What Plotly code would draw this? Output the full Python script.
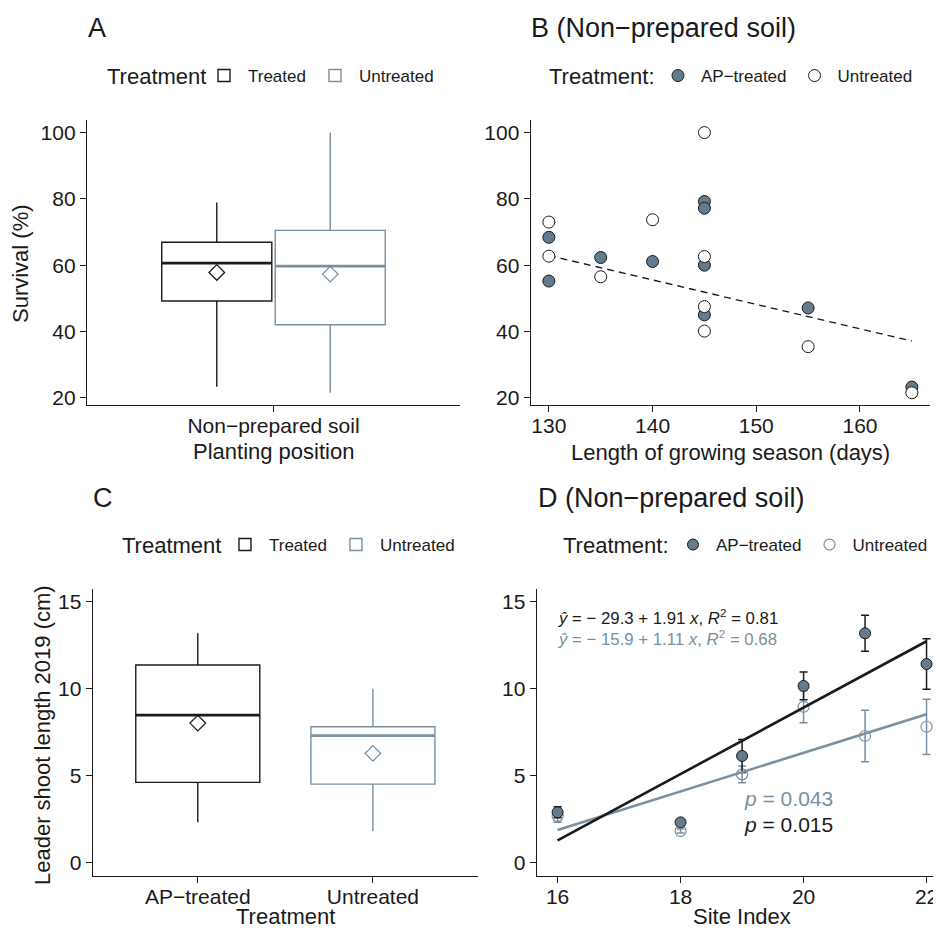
import plotly.graph_objects as go

# ---------------- data ----------------
# Panel A: survival boxplots (non-prepared soil)
a_category = ["Non\u2212prepared soil"]
a_groups = ["Treated", "Untreated"]
a_q1 = [49.2, 42.0]
a_median = [60.6, 59.7]
a_q3 = [66.9, 70.5]
a_lowerfence = [23.3, 21.5]
a_upperfence = [78.9, 100.0]
a_mean = [57.8, 57.3]

# Panel B: survival vs length of growing season
b_ap_days = [130, 130, 135, 140, 145, 145, 145, 145, 155, 165]
b_ap_survival = [68.4, 55.2, 62.3, 61.1, 79.2, 77.2, 60.0, 45.0, 47.1, 23.2]
b_un_days = [130, 130, 135, 140, 145, 145, 145, 145, 155, 165]
b_un_survival = [73.0, 62.7, 56.5, 73.7, 100.0, 62.6, 47.5, 40.1, 35.4, 21.5]
b_trend_days = [130, 165]
b_trend_survival = [62.9, 37.1]

# Panel C: leader shoot length boxplots
c_categories = ["AP\u2212treated", "Untreated"]
c_groups = ["Treated", "Untreated"]
c_q1 = [4.6, 4.5]
c_median = [8.47, 7.29]
c_q3 = [11.35, 7.8]
c_lowerfence = [2.3, 1.8]
c_upperfence = [13.18, 9.99]
c_mean = [8.01, 6.27]

# Panel D: leader shoot length vs site index
d_site_index = [16, 18, 19, 20, 21, 22]
d_ap_mean = [2.88, 2.3, 6.12, 10.15, 13.18, 11.41]
d_ap_se = [0.32, 0.15, 0.95, 0.8, 1.03, 1.45]
d_un_mean = [2.66, 1.8, 5.06, 8.95, 7.27, 7.8]
d_un_se = [0.35, 0.12, 0.48, 0.92, 1.48, 1.59]
d_fit_ap = {"intercept": -29.3, "slope": 1.91, "r2": 0.81, "p": 0.015}
d_fit_un = {"intercept": -15.9, "slope": 1.11, "r2": 0.68, "p": 0.043}

# ---------------- styles ----------------
FONT = "Liberation Sans, Arial, Helvetica, sans-serif"
BLACK = "#1a1a1a"
SLATE = "#7890a1"
SLATE_FILL = "#637b8c"
W, H = 941, 930
OFF = 8  # page body margin


def px_x(p):
    return (p - OFF) / W


def px_y(p):
    return 1 - (p - OFF) / H


fig = go.Figure()

box_colors = [BLACK, SLATE]

# ---------- Panel A ----------
for i, g in enumerate(a_groups):
    fig.add_trace(go.Box(
        x=a_category, q1=[a_q1[i]], median=[a_median[i]], q3=[a_q3[i]],
        lowerfence=[a_lowerfence[i]], upperfence=[a_upperfence[i]],
        name=g, offsetgroup="A" + g, xaxis="x", yaxis="y",
        line=dict(color=box_colors[i], width=1.4), fillcolor="white",
        whiskerwidth=0, legend="legend", hoverinfo="skip"))
for i, g in enumerate(a_groups):
    fig.add_trace(go.Box(
        x=a_category, q1=[a_median[i]], median=[a_median[i]], q3=[a_median[i]],
        lowerfence=[a_median[i]], upperfence=[a_median[i]],
        offsetgroup="A" + g, xaxis="x", yaxis="y", showlegend=False,
        line=dict(color=box_colors[i], width=2.8), fillcolor="rgba(0,0,0,0)",
        whiskerwidth=0, hoverinfo="skip"))
for i, g in enumerate(a_groups):
    fig.add_trace(go.Scatter(
        x=a_category, y=[a_mean[i]], mode="markers", offsetgroup="A" + g,
        xaxis="x", yaxis="y", showlegend=False,
        marker=dict(symbol="diamond-open", size=12, color=box_colors[i],
                    line=dict(width=1.3, color=box_colors[i]))))

# ---------- Panel B ----------
fig.add_trace(go.Scatter(
    x=b_trend_days, y=b_trend_survival, mode="lines", offsetgroup="B",
    xaxis="x2", yaxis="y2", showlegend=False,
    line=dict(color=BLACK, width=1.4, dash="7px,5px")))
fig.add_trace(go.Scatter(
    x=b_ap_days, y=b_ap_survival, mode="markers", name="AP\u2212treated",
    offsetgroup="B", xaxis="x2", yaxis="y2", legend="legend2", legendrank=1,
    marker=dict(symbol="circle", size=12, color=SLATE_FILL,
                line=dict(color=BLACK, width=1))))
fig.add_trace(go.Scatter(
    x=b_un_days, y=b_un_survival, mode="markers", name="Untreated",
    offsetgroup="B", xaxis="x2", yaxis="y2", legend="legend2", legendrank=2,
    marker=dict(symbol="circle", size=12, color="white",
                line=dict(color=BLACK, width=1))))

# ---------- Panel C ----------
for i, g in enumerate(c_groups):
    fig.add_trace(go.Box(
        x=[c_categories[i]], q1=[c_q1[i]], median=[c_median[i]], q3=[c_q3[i]],
        lowerfence=[c_lowerfence[i]], upperfence=[c_upperfence[i]],
        name=g, offsetgroup="C", xaxis="x3", yaxis="y3",
        line=dict(color=box_colors[i], width=1.4), fillcolor="white",
        whiskerwidth=0, legend="legend3", hoverinfo="skip"))
for i, g in enumerate(c_groups):
    fig.add_trace(go.Box(
        x=[c_categories[i]], q1=[c_median[i]], median=[c_median[i]], q3=[c_median[i]],
        lowerfence=[c_median[i]], upperfence=[c_median[i]],
        offsetgroup="C", xaxis="x3", yaxis="y3", showlegend=False,
        line=dict(color=box_colors[i], width=2.8), fillcolor="rgba(0,0,0,0)",
        whiskerwidth=0, hoverinfo="skip"))
for i, g in enumerate(c_groups):
    fig.add_trace(go.Scatter(
        x=[c_categories[i]], y=[c_mean[i]], mode="markers", offsetgroup="C",
        xaxis="x3", yaxis="y3", showlegend=False,
        marker=dict(symbol="diamond-open", size=12, color=box_colors[i],
                    line=dict(width=1.3, color=box_colors[i]))))

# ---------- Panel D ----------
d_x_ends = [min(d_site_index), max(d_site_index)]
fig.add_trace(go.Scatter(
    x=d_site_index, y=d_un_mean, mode="markers", name="Untreated",
    offsetgroup="D", xaxis="x4", yaxis="y4", legend="legend4", legendrank=2,
    error_y=dict(type="data", array=d_un_se, color=SLATE, thickness=1.5, width=4),
    marker=dict(symbol="circle", size=11, color="rgba(255,255,255,0)",
                line=dict(color=SLATE, width=1.2))))
fig.add_trace(go.Scatter(
    x=d_site_index, y=d_ap_mean, mode="markers", name="AP\u2212treated",
    offsetgroup="D", xaxis="x4", yaxis="y4", legend="legend4", legendrank=1,
    error_y=dict(type="data", array=d_ap_se, color=BLACK, thickness=1.5, width=4),
    marker=dict(symbol="circle", size=11, color=SLATE_FILL,
                line=dict(color=BLACK, width=1))))
fig.add_trace(go.Scatter(
    x=d_x_ends, y=[d_fit_un["intercept"] + d_fit_un["slope"] * x for x in d_x_ends],
    mode="lines", offsetgroup="D", xaxis="x4", yaxis="y4", showlegend=False,
    line=dict(color=SLATE, width=2.6)))
fig.add_trace(go.Scatter(
    x=d_x_ends, y=[d_fit_ap["intercept"] + d_fit_ap["slope"] * x for x in d_x_ends],
    mode="lines", offsetgroup="D", xaxis="x4", yaxis="y4", showlegend=False,
    line=dict(color=BLACK, width=2.6)))

# ---------------- axes ----------------
axis_common = dict(showline=True, linecolor=BLACK, linewidth=1.3, ticks="outside",
                   ticklen=6, tickwidth=1.3, tickcolor=BLACK, showgrid=False,
                   zeroline=False, automargin=False,
                   tickfont=dict(family=FONT, size=21, color=BLACK))
xa = dict(axis_common, ticklabelstandoff=-4)

fig.update_layout(
    xaxis=dict(domain=[px_x(87), px_x(460)], anchor="y", type="category",
               range=[-0.6, 0.6], **xa),
    yaxis=dict(domain=[px_y(405), px_y(120)], anchor="x", range=[17.8, 103.8],
               tickvals=[20, 40, 60, 80, 100], **axis_common),
    xaxis2=dict(domain=[px_x(530.7), px_x(930)], anchor="y2", range=[128.25, 166.75],
                tickvals=[130, 140, 150, 160], **xa),
    yaxis2=dict(domain=[px_y(405), px_y(120)], anchor="x2", range=[17.8, 103.8],
                tickvals=[20, 40, 60, 80, 100], **axis_common),
    xaxis3=dict(domain=[px_x(92.7), px_x(478)], anchor="y3", type="category",
                range=[-0.6, 1.6], **xa),
    yaxis3=dict(domain=[px_y(875.7), px_y(589.3)], anchor="x3", range=[-0.77, 15.71],
                tickvals=[0, 5, 10, 15], **axis_common),
    xaxis4=dict(domain=[px_x(536.7), px_x(945)], anchor="y4", range=[15.66, 22.3],
                tickvals=[16, 18, 20, 22], **xa),
    yaxis4=dict(domain=[px_y(875.7), px_y(589.3)], anchor="x4", range=[-0.77, 15.71],
                tickvals=[0, 5, 10, 15], **axis_common),
)


# ---------------- legends ----------------
def legend_cfg(x, y, itemwidth):
    return dict(x=x, y=y, xanchor="left", yanchor="middle", orientation="h",
                bgcolor="rgba(0,0,0,0)", borderwidth=0, itemwidth=itemwidth,
                traceorder="normal",
                font=dict(family=FONT, size=17, color=BLACK),
                itemclick=False, itemdoubleclick=False)


fig.update_layout(
    legend=legend_cfg(px_x(200), px_y(76), 38),
    legend2=legend_cfg(px_x(655), px_y(76), 36),
    legend3=legend_cfg(px_x(221), px_y(545), 38),
    legend4=legend_cfg(px_x(670), px_y(545), 36),
)

# ---------------- annotations ----------------
ann = []


def text(x, y, s, size, xanchor="left", angle=0, color=BLACK, xref="paper", yref="paper"):
    ann.append(dict(x=x, y=y, xref=xref, yref=yref, text=s, showarrow=False,
                    xanchor=xanchor, yanchor="middle", textangle=angle,
                    font=dict(family=FONT, size=size, color=color)))


# panel titles
text(px_x(86), px_y(28), "A", 27)
text(px_x(529), px_y(28), "B (Non\u2212prepared soil)", 27)
text(px_x(91), px_y(498), "C", 27)
text(px_x(536), px_y(498), "D (Non\u2212prepared soil)", 27)

# legend titles
text(px_x(105), px_y(76), "Treatment", 22)
text(px_x(547), px_y(76), "Treatment:", 22)
text(px_x(120), px_y(545), "Treatment", 22)
text(px_x(561), px_y(545), "Treatment:", 22)

# axis titles
text(px_x(20), px_y(264), "Survival (%)", 22, xanchor="center", angle=-90)
text(px_x(273.5), px_y(451), "Planting position", 22, xanchor="center")
text(px_x(730), px_y(452), "Length of growing season (days)", 22, xanchor="center")
text(px_x(42), px_y(735), "Leader shoot length 2019 (cm)", 22, xanchor="center", angle=-90)
text(px_x(285), px_y(916), "Treatment", 22, xanchor="center")
text(px_x(742), px_y(916), "Site Index", 22, xanchor="center")


# regression labels in panel D
def eq_label(fit):
    sign = "\u2212 " if fit["intercept"] < 0 else ""
    return ("<i>\u0177</i> = %s%.1f + %.2f <i>x</i>, <i>R</i><sup>2</sup> = %.2f"
            % (sign, abs(fit["intercept"]), fit["slope"], fit["r2"]))


text(15.98, 14.13, eq_label(d_fit_ap), 16.8, xref="x4", yref="y4", color=BLACK)
text(15.98, 12.92, eq_label(d_fit_un), 16.8, xref="x4", yref="y4", color=SLATE)
text(19.0, 3.68, "<i>p</i> = %.3f" % d_fit_un["p"], 21, xref="x4", yref="y4", color=SLATE)
text(19.0, 2.19, "<i>p</i> = %.3f" % d_fit_ap["p"], 21, xref="x4", yref="y4", color=BLACK)

fig.update_layout(
    annotations=ann,
    width=W, height=H,
    margin=dict(l=0, r=0, t=0, b=0),
    paper_bgcolor="white", plot_bgcolor="white",
    boxmode="group", boxgap=0.27, boxgroupgap=0.03,
    scattermode="group", scattergap=0.27,
    font=dict(family=FONT, color=BLACK),
    showlegend=True,
)

fig.write_html("out.html")
